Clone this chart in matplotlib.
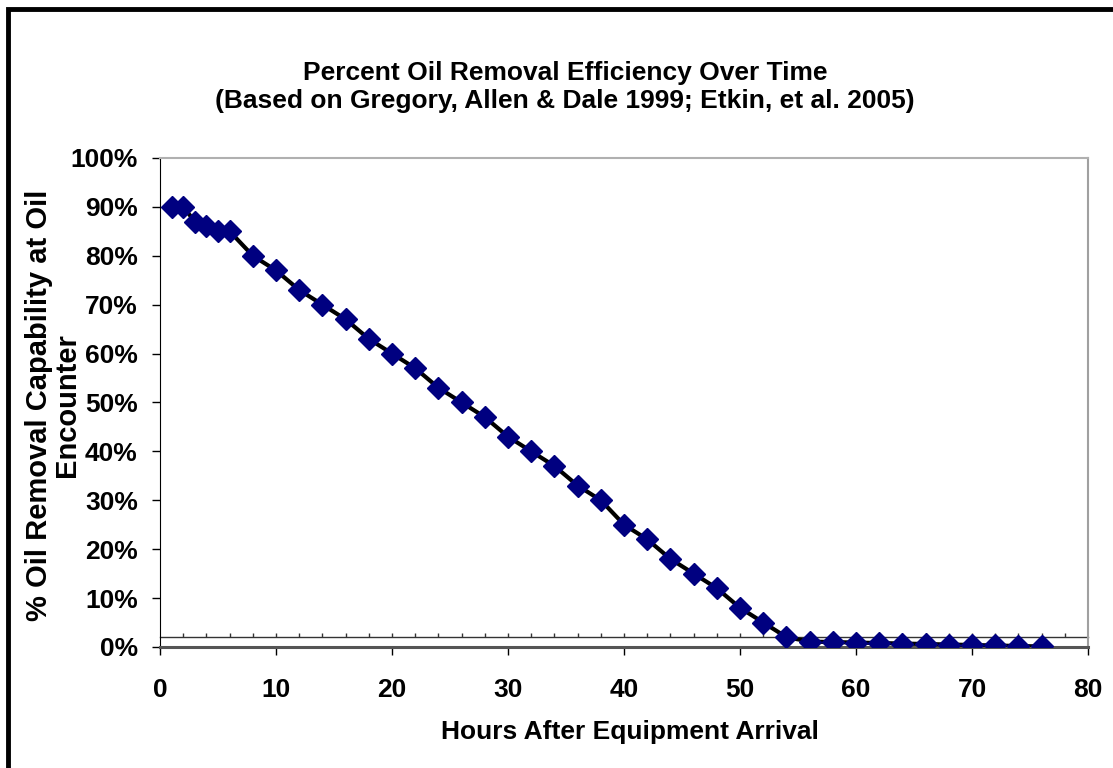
import matplotlib.pyplot as plt
from matplotlib.patches import Rectangle
from matplotlib.ticker import PercentFormatter

# data
hours = [1, 2, 3, 4, 5, 6, 8, 10, 12, 14, 16, 18, 20, 22, 24, 26, 28, 30, 32, 34,
         36, 38, 40, 42, 44, 46, 48, 50, 52, 54, 56, 58, 60, 62, 64, 66, 68, 70,
         72, 74, 76]
efficiency = [90, 90, 87, 86, 85, 85, 80, 77, 73, 70, 67, 63, 60, 57, 53, 50, 47,
              43, 40, 37, 33, 30, 25, 22, 18, 15, 12, 8, 5, 2, 1.1, 1.0, 0.9, 0.8,
              0.7, 0.6, 0.5, 0.4, 0.3, 0.2, 0.1]
x_ticks = [0, 10, 20, 30, 40, 50, 60, 70, 80]
y_ticks = [0, 10, 20, 30, 40, 50, 60, 70, 80, 90, 100]

plt.rcParams['font.family'] = ['Liberation Sans', 'DejaVu Sans']
plt.rcParams['font.weight'] = 'bold'

fig = plt.figure(figsize=(11.13, 7.68), dpi=100)
ax = fig.add_axes([0.1438, 0.1576, 0.8338, 0.6367])

ax.plot(hours, efficiency, color='black', lw=3, marker='D', ms=11,
        mfc='#000080', mec='#000080', zorder=3)

ax.set_xlim(0, 80)
ax.set_ylim(0, 100)
ax.set_xticks(x_ticks)
ax.set_yticks(y_ticks)
ax.yaxis.set_major_formatter(PercentFormatter(decimals=0))
ax.tick_params(axis='both', labelsize=19, direction='out', length=6, width=1)
ax.tick_params(axis='x', pad=16)
ax.tick_params(axis='y', pad=10)
for lab in ax.get_xticklabels() + ax.get_yticklabels():
    lab.set_fontweight('bold')

ax.spines['left'].set_color('black')
ax.spines['bottom'].set_color('#555555')
ax.spines['bottom'].set_linewidth(2.2)
ax.spines['top'].set_color('#b0b0b0')
ax.spines['right'].set_color('#a0a0a0')
ax.spines['top'].set_linewidth(1.5)
ax.spines['right'].set_linewidth(1.5)

# thin secondary axis line at 2% with small tick marks
sec = ax.secondary_xaxis(0.02)
sec.set_xticks(list(range(2, 80, 2)))
sec.tick_params(direction='in', length=3, width=1, labelbottom=False, color='#333333')
sec.spines['bottom'].set_color('#333333')
sec.spines['bottom'].set_linewidth(1)

fig.text(565 / 1113, 1 - 87 / 768,
         'Percent Oil Removal Efficiency Over Time\n(Based on Gregory, Allen & Dale 1999; Etkin, et al. 2005)',
         fontsize=19, fontweight='bold', ha='center', va='center', linespacing=1.25)

ax.set_xlabel('Hours After Equipment Arrival', fontsize=19, fontweight='bold', va='center')
ax.xaxis.set_label_coords(0.506, -0.174)
ax.set_ylabel('% Oil Removal Capability at Oil\nEncounter', fontsize=21, fontweight='bold',
              va='center', linespacing=1.0)
ax.yaxis.set_label_coords(-0.1158, 0.495)

# outer border of the chart area (runs off the right and bottom edge)
fig.patches.append(Rectangle((0.0072, -0.1), 1.2, 0.1 + 0.988, transform=fig.transFigure,
                             fill=False, ec='black', lw=3.5, clip_on=False))

fig.savefig('out.png', dpi=100)
